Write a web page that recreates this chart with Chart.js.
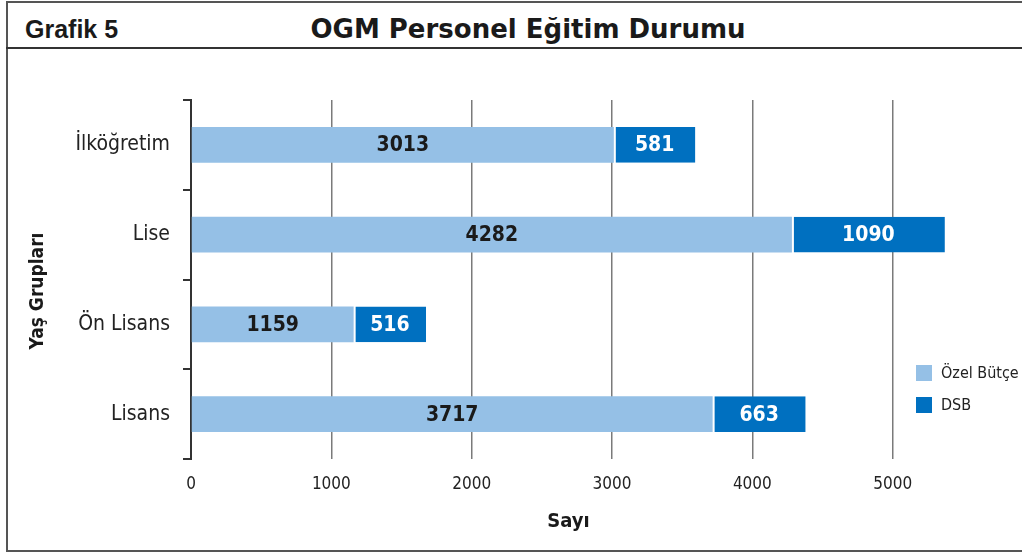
<!DOCTYPE html>
<html>
<head>
<meta charset="utf-8">
<script src="https://cdn.jsdelivr.net/npm/chart.js@4.4.1/dist/chart.umd.min.js"></script>
<style>
  body { margin: 0; background: #fff; width: 1022px; height: 552px; overflow: hidden; position: relative; }
  .frame { position: absolute; left: 6px; top: 1px; width: 1040px; height: 547px; border: 2px solid #555; }
  .sep { position: absolute; left: 6px; top: 47px; width: 1022px; height: 2px; background: #333; }
  .grafik { position: absolute; left: 25px; top: 15px; font: bold 25px "Liberation Sans", Arial, sans-serif; color: #1a1a1a; }
  .baslik { position: absolute; left: 0; width: 1056px; top: 14px; text-align: center; font: bold 26px "DejaVu Sans", sans-serif; color: #1a1a1a; }
  .wrap { position: absolute; left: 0; top: 50px; width: 1022px; height: 502px; }
</style>
</head>
<body>
<div class="frame"></div>
<div class="sep"></div>
<div class="grafik">Grafik 5</div>
<div class="baslik">OGM Personel Eğitim Durumu</div>
<div class="wrap"><canvas id="grafik"></canvas></div>
<script>
// veriler
const kategoriler = ['İlköğretim', 'Lise', 'Ön Lisans', 'Lisans'];
const ozelButce = [3013, 4282, 1159, 3717];
const dsb = [581, 1090, 516, 663];
const eksenDegerleri = [0, 1000, 2000, 3000, 4000, 5000];

const FONT = '"Liberation Sans Narrow", "DejaVu Sans Condensed", "Arial Narrow", sans-serif';
const ACIK = '#95c0e6';
const KOYU = '#0070c0';

// bar içindeki sayılar
const etiketPlugin = {
    id: 'etiketler',
    afterDatasetsDraw(chart) {
        const ctx = chart.ctx;
        ctx.save();
        ctx.font = 'bold 21px ' + FONT;
        ctx.textAlign = 'center';
        ctx.textBaseline = 'middle';
        chart.data.datasets.forEach((ds, i) => {
            const meta = chart.getDatasetMeta(i);
            meta.data.forEach((bar, j) => {
                const p = bar.getCenterPoint();
                ctx.fillStyle = i === 0 ? '#1a1a1a' : '#ffffff';
                ctx.fillText(ds.data[j], p.x, p.y + 1);
            });
        });
        ctx.restore();
    }
};

// sağdaki lejant ve dikey eksen başlığı
const lejantPlugin = {
    id: 'lejant',
    afterDraw(chart) {
        const ctx = chart.ctx;
        ctx.save();
        ctx.font = '16px ' + FONT;
        ctx.textBaseline = 'middle';
        chart.data.datasets.forEach((ds, i) => {
            const y = 315 + i * 32;
            ctx.fillStyle = ds.backgroundColor;
            ctx.fillRect(916, y, 16, 16);
            ctx.fillStyle = '#222';
            ctx.fillText(ds.label, 941, y + 9);
        });
        // Yaş Grupları
        ctx.translate(38, 241);
        ctx.rotate(-Math.PI / 2);
        ctx.font = 'bold 19px ' + FONT;
        ctx.textAlign = 'center';
        ctx.fillStyle = '#1a1a1a';
        ctx.fillText('Yaş Grupları', 0, 0);
        ctx.restore();
    }
};

new Chart(document.getElementById('grafik'), {
    type: 'bar',
    data: {
        labels: kategoriler,
        datasets: [{
            label: 'Özel Bütçe',
            data: ozelButce,
            backgroundColor: ACIK,
            borderWidth: 0
        }, {
            label: 'DSB',
            data: dsb,
            backgroundColor: KOYU,
            borderColor: '#ffffff',
            borderWidth: { left: 2, right: 0, top: 0, bottom: 0 },
            borderSkipped: false
        }]
    },
    options: {
        indexAxis: 'y',
        responsive: true,
        maintainAspectRatio: false,
        animation: false,
        layout: { padding: { top: 50, right: 76, left: 0, bottom: 0 } },
        datasets: { bar: { barPercentage: 1, categoryPercentage: 0.401 } },
        plugins: {
            legend: { display: false },
            tooltip: { enabled: false }
        },
        scales: {
            x: {
                stacked: true,
                min: 0,
                max: 5380,
                afterBuildTicks(scale) {
                    scale.ticks = eksenDegerleri.map(v => ({ value: v }));
                },
                afterFit(scale) { scale.height = 93; },
                border: { display: false },
                grid: { color: '#7a7a7a', lineWidth: 1.5, drawTicks: false },
                ticks: {
                    padding: 15,
                    color: '#222',
                    font: { family: FONT, size: 17 },
                    callback: v => String(v)
                },
                title: {
                    display: true,
                    text: 'Sayı',
                    color: '#1a1a1a',
                    font: { family: FONT, size: 20, weight: 'bold' },
                    padding: { top: 0, bottom: 18 }
                }
            },
            y: {
                stacked: true,
                afterFit(scale) { scale.width = 191; },
                border: { display: true, color: '#333', width: 2 },
                grid: { offset: true, drawOnChartArea: false, tickLength: 8, color: '#333', lineWidth: 2 },
                ticks: { padding: 13, color: '#222', font: { family: FONT, size: 21 } }
            }
        }
    },
    plugins: [etiketPlugin, lejantPlugin]
});
</script>
</body>
</html>
